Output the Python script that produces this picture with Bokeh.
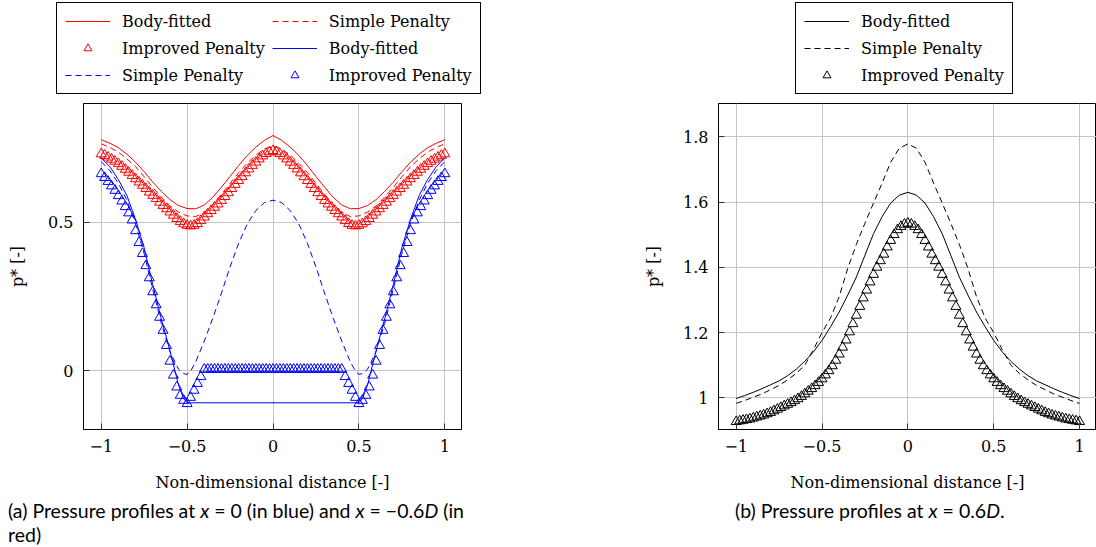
from bokeh.plotting import figure
from bokeh.models import (Range1d, CustomJSTickFormatter, Legend, LegendItem,
                          FixedTicker, ColumnDataSource, Div)
from bokeh.layouts import row, column
from bokeh.embed import file_html
from bokeh.resources import INLINE

# ---------------- data ----------------
X_TICKS = [-1, -0.5, 0, 0.5, 1]
YTICKS_A = [0, 0.5]
YTICKS_B = [1, 1.2, 1.4, 1.6, 1.8]

# sampling grids (x positions of the plotted samples)
X_LINE = [round(-1 + 0.05 * i, 2) for i in range(41)]
X_MARK = [round(-1 + 0.02 * i, 2) for i in range(101)]

# (a) x = -0.6D (red)
RED_BODY = [0.779, 0.767, 0.752, 0.730, 0.703, 0.671, 0.636, 0.605, 0.577, 0.557,
            0.547, 0.546, 0.559, 0.585, 0.619, 0.655, 0.692, 0.726, 0.754, 0.777,
            0.793,
            0.777, 0.754, 0.726, 0.692, 0.655, 0.619, 0.585, 0.559, 0.546, 0.547,
            0.557, 0.577, 0.605, 0.636, 0.671, 0.703, 0.730, 0.752, 0.767, 0.779]
RED_SIMPLE = [0.765, 0.753, 0.737, 0.714, 0.688, 0.654, 0.618, 0.586, 0.556, 0.535,
              0.522, 0.520, 0.533, 0.562, 0.595, 0.632, 0.668, 0.700, 0.727, 0.748,
              0.758,
              0.748, 0.727, 0.700, 0.668, 0.632, 0.595, 0.562, 0.533, 0.520, 0.522,
              0.535, 0.556, 0.586, 0.618, 0.654, 0.688, 0.714, 0.737, 0.753, 0.765]
RED_IMPROVED = [0.731, 0.726, 0.720, 0.713, 0.706, 0.698, 0.689, 0.679, 0.669, 0.658,
                0.647, 0.636, 0.625, 0.614, 0.602, 0.591, 0.580, 0.568, 0.557, 0.546,
                0.535, 0.524, 0.513, 0.503, 0.495, 0.490, 0.488, 0.490, 0.496, 0.506,
                0.518, 0.529, 0.540, 0.551, 0.562, 0.574, 0.587, 0.600, 0.614, 0.628,
                0.641, 0.654, 0.667, 0.680, 0.692, 0.703, 0.714, 0.724, 0.732, 0.738,
                0.742,
                0.738, 0.732, 0.724, 0.714, 0.703, 0.692, 0.680, 0.667, 0.654, 0.641,
                0.628, 0.614, 0.600, 0.587, 0.574, 0.562, 0.551, 0.540, 0.529, 0.518,
                0.506, 0.496, 0.490, 0.488, 0.490, 0.495, 0.503, 0.513, 0.524, 0.535,
                0.546, 0.557, 0.568, 0.580, 0.591, 0.602, 0.614, 0.625, 0.636, 0.647,
                0.658, 0.669, 0.679, 0.689, 0.698, 0.706, 0.713, 0.720, 0.726, 0.731]

# (a) x = 0 (blue)
BLUE_BODY_X = [-1.0, -0.95, -0.9, -0.85, -0.8, -0.75, -0.7, -0.65, -0.6, -0.55, -0.52, -0.5,
               0.5, 0.52, 0.55, 0.6, 0.65, 0.7, 0.75, 0.8, 0.85, 0.9, 0.95, 1.0]
BLUE_BODY = [0.718, 0.688, 0.645, 0.590, 0.510, 0.415, 0.290, 0.175, 0.068, -0.048, -0.094, -0.108,
             -0.108, -0.094, -0.048, 0.068, 0.175, 0.290, 0.415, 0.510, 0.590, 0.645, 0.688, 0.718]
BLUE_SIMPLE_X = [-1.0, -0.95, -0.9, -0.85, -0.8, -0.75, -0.7, -0.65, -0.6, -0.55, -0.52, -0.5,
                 -0.48, -0.45, -0.4, -0.35, -0.3, -0.25, -0.2, -0.15, -0.1, -0.05, 0.0,
                 0.05, 0.1, 0.15, 0.2, 0.25, 0.3, 0.35, 0.4, 0.45, 0.48,
                 0.5, 0.52, 0.55, 0.6, 0.65, 0.7, 0.75, 0.8, 0.85, 0.9, 0.95, 1.0]
BLUE_SIMPLE = [0.705, 0.675, 0.632, 0.575, 0.495, 0.395, 0.275, 0.160, 0.065, 0.005, -0.010, -0.012,
               -0.002, 0.030, 0.100, 0.178, 0.262, 0.350, 0.430, 0.495, 0.540, 0.567, 0.575,
               0.567, 0.540, 0.495, 0.430, 0.350, 0.262, 0.178, 0.100, 0.030, -0.002,
               -0.012, -0.010, 0.005, 0.065, 0.160, 0.275, 0.395, 0.495, 0.575, 0.632, 0.675, 0.705]
BLUE_IMPROVED = [0.664, 0.651, 0.638, 0.623, 0.608, 0.590, 0.572, 0.553, 0.532, 0.508,
                 0.472, 0.432, 0.395, 0.354, 0.313, 0.266, 0.222, 0.180, 0.136, 0.085,
                 0.032, -0.015, -0.055, -0.083, -0.100, -0.111, -0.090, -0.066, -0.043, -0.020,
                 0.005, 0.005, 0.005, 0.005, 0.005, 0.005, 0.005, 0.005, 0.005, 0.005,
                 0.005, 0.005, 0.005, 0.005, 0.005, 0.005, 0.005, 0.005, 0.005, 0.005,
                 0.005,
                 0.005, 0.005, 0.005, 0.005, 0.005, 0.005, 0.005, 0.005, 0.005, 0.005,
                 0.005, 0.005, 0.005, 0.005, 0.005, 0.005, 0.005, 0.005, 0.005, 0.005,
                 -0.020, -0.043, -0.066, -0.090, -0.111, -0.100, -0.083, -0.055, -0.015, 0.032,
                 0.085, 0.136, 0.180, 0.222, 0.266, 0.313, 0.354, 0.395, 0.432, 0.472,
                 0.508, 0.532, 0.553, 0.572, 0.590, 0.608, 0.623, 0.638, 0.651, 0.664]

# (b) x = 0.6D (black)
P6_BODY = [0.998, 1.007, 1.017, 1.028, 1.040, 1.052, 1.068, 1.088, 1.112, 1.141,
           1.176, 1.218, 1.263, 1.315, 1.370, 1.437, 1.503, 1.555, 1.597, 1.621,
           1.630,
           1.621, 1.597, 1.555, 1.503, 1.437, 1.370, 1.315, 1.263, 1.218, 1.176,
           1.141, 1.112, 1.088, 1.068, 1.052, 1.040, 1.028, 1.017, 1.007, 0.998]
P6_SIMPLE = [0.983, 0.992, 1.002, 1.012, 1.025, 1.038, 1.055, 1.075, 1.100, 1.148,
             1.200, 1.245, 1.310, 1.397, 1.470, 1.535, 1.597, 1.658, 1.722, 1.765,
             1.778,
             1.765, 1.722, 1.658, 1.597, 1.535, 1.470, 1.397, 1.310, 1.245, 1.200,
             1.148, 1.100, 1.075, 1.055, 1.038, 1.025, 1.012, 1.002, 0.992, 0.983]
P6_IMPROVED = [0.927, 0.929, 0.931, 0.933, 0.935, 0.938, 0.941, 0.944, 0.947, 0.951,
               0.955, 0.960, 0.965, 0.970, 0.975, 0.980, 0.985, 0.991, 0.997, 1.004,
               1.012, 1.020, 1.028, 1.037, 1.047, 1.058, 1.070, 1.083, 1.098, 1.115,
               1.134, 1.155, 1.177, 1.202, 1.227, 1.253, 1.280, 1.306, 1.330, 1.355,
               1.378, 1.400, 1.420, 1.440, 1.462, 1.482, 1.500, 1.515, 1.525, 1.532,
               1.535,
               1.532, 1.525, 1.515, 1.500, 1.482, 1.462, 1.440, 1.420, 1.400, 1.378,
               1.355, 1.330, 1.306, 1.280, 1.253, 1.227, 1.202, 1.177, 1.155, 1.134,
               1.115, 1.098, 1.083, 1.070, 1.058, 1.047, 1.037, 1.028, 1.020, 1.012,
               1.004, 0.997, 0.991, 0.985, 0.980, 0.975, 0.970, 0.965, 0.960, 0.955,
               0.951, 0.947, 0.944, 0.941, 0.938, 0.935, 0.933, 0.931, 0.929, 0.927]

LEGEND_LABELS = ["Body-fitted", "Simple Penalty", "Improved Penalty"]
XLABEL = "Non-dimensional distance [-]"
YLABEL = "p* [-]"
CAPTION_A = ("(a) Pressure profiles at <i>x</i> = 0 (in blue) and <i>x</i> = \u22120.6<i>D</i> (in<br>"
             "red)")
CAPTION_B = "(b) Pressure profiles at <i>x</i> = 0.6<i>D</i>."

# ---------------- styling ----------------
SERIF = "DejaVu Serif"
CAPF = "Lato"
FS = "16px"
GRID = "#c4c4c4"
DASH = "6 4"
W_A, W_B = 560, 536
LEG_H = 95
MAIN_H = 404
CAP_H = 547 - LEG_H - MAIN_H
FMT = "return tick < 0 ? '\\u2212' + (-tick) : '' + tick;"


def style_axis(ax, ticks):
    ax.ticker = FixedTicker(ticks=ticks)
    ax.major_tick_in = 6
    ax.major_tick_out = 0
    ax.minor_tick_line_color = None
    ax.axis_line_color = "black"
    ax.major_tick_line_color = "#333333"
    ax.formatter = CustomJSTickFormatter(code=FMT)
    ax.major_label_text_font = SERIF
    ax.major_label_text_color = "black"
    ax.major_label_text_font_size = FS
    ax.major_label_standoff = 10
    ax.axis_label_text_font = SERIF
    ax.axis_label_text_font_size = FS
    ax.axis_label_text_font_style = "normal"
    ax.axis_label_text_color = "black"


def make_fig(width, xr, yr, yticks, left, right):
    p = figure(width=width, height=MAIN_H, x_range=Range1d(*xr), y_range=Range1d(*yr),
               output_backend="svg", toolbar_location=None,
               min_border_left=left, min_border_right=right,
               min_border_top=8, min_border_bottom=70)
    p.outline_line_color = "black"
    p.background_fill_color = "white"
    p.border_fill_color = "white"
    style_axis(p.xaxis[0], X_TICKS)
    style_axis(p.yaxis[0], yticks)
    p.xaxis[0].axis_label = XLABEL
    p.yaxis[0].axis_label = YLABEL
    p.xaxis[0].axis_label_standoff = 18
    p.xgrid[0].ticker = FixedTicker(ticks=X_TICKS)
    p.ygrid[0].ticker = FixedTicker(ticks=yticks)
    for g in (p.xgrid[0], p.ygrid[0]):
        g.grid_line_color = GRID
        g.grid_line_width = 1
    return p


# a frame-only strip across the page that hosts both legends
# (its copies of the series lie outside its y range, so only the legends show)
leg_fig = figure(width=W_A + W_B, height=LEG_H, x_range=Range1d(-1.1, 1.1),
                 y_range=Range1d(5, 6), output_backend="svg", toolbar_location=None,
                 x_axis_location=None, y_axis_location=None,
                 min_border_left=0, min_border_right=0, min_border_top=0, min_border_bottom=0)
leg_fig.outline_line_color = None
leg_fig.xgrid.visible = False
leg_fig.ygrid.visible = False
leg_fig.background_fill_color = "white"
leg_fig.border_fill_color = "white"


def make_legend(items, loc, ncols):
    return Legend(items=items, location=loc, orientation="horizontal", ncols=ncols,
                  border_line_color="black", border_line_width=1, border_line_alpha=1,
                  background_fill_color="white", background_fill_alpha=1,
                  label_text_font=SERIF, label_text_font_size=FS, label_text_color="black",
                  glyph_width=45, glyph_height=20, label_height=20, label_standoff=12,
                  spacing=7, padding=8, margin=0)


def draw(p, src, kind, color):
    if kind == "solid":
        return p.line("x", "y", source=src, line_color=color, line_width=1)
    if kind == "dash":
        return p.line("x", "y", source=src, line_color=color, line_width=1, line_dash=DASH)
    return p.scatter("x", "y", source=src, marker="triangle", size=10, fill_color=None,
                     line_color=color, line_width=1)


def caption_div(html, width, pad_left):
    return Div(text=html, width=width, height=CAP_H,
               styles={"font-family": CAPF, "font-size": "19.5px", "line-height": "24px",
                       "color": "black", "padding-left": f"{pad_left}px",
                       "box-sizing": "border-box", "margin": "0"})


SERIES_A = [
    (X_LINE, RED_BODY, "solid", "red", LEGEND_LABELS[0]),
    (X_LINE, RED_SIMPLE, "dash", "red", LEGEND_LABELS[1]),
    (X_MARK, RED_IMPROVED, "tri", "red", LEGEND_LABELS[2]),
    (BLUE_BODY_X, BLUE_BODY, "solid", "blue", LEGEND_LABELS[0]),
    (BLUE_SIMPLE_X, BLUE_SIMPLE, "dash", "blue", LEGEND_LABELS[1]),
    (X_MARK, BLUE_IMPROVED, "tri", "blue", LEGEND_LABELS[2]),
]
SERIES_B = [
    (X_LINE, P6_BODY, "solid", "black", LEGEND_LABELS[0]),
    (X_LINE, P6_SIMPLE, "dash", "black", LEGEND_LABELS[1]),
    (X_MARK, P6_IMPROVED, "tri", "black", LEGEND_LABELS[2]),
]


def build(series, width, xr, yr, yticks, left, right, leg_loc, ncols, cap_html, cap_pad):
    main = make_fig(width, xr, yr, yticks, left, right)
    items = []
    for xs, ys, kind, color, label in series:
        src = ColumnDataSource(data=dict(x=xs, y=ys))
        draw(main, src, kind, color)
        r = draw(leg_fig, src, kind, color)
        items.append(LegendItem(label=label, renderers=[r]))
    leg_fig.add_layout(make_legend(items, leg_loc, ncols))
    cap = caption_div(cap_html, width, cap_pad)
    return main, cap


main_a, cap_a = build(SERIES_A, W_A, (-1.103, 1.097), (-0.198, 0.901), YTICKS_A,
                      83, 99, (56, 1), 2, CAPTION_A, 8)
main_a.yaxis[0].axis_label_standoff = 18
main_b, cap_b = build(SERIES_B, W_B, (-1.103, 1.099), (0.903, 1.902), YTICKS_B,
                      158, 0, (795, 1), 1, CAPTION_B, 175)
main_b.yaxis[0].axis_label_standoff = 17

layout = column(leg_fig, row(main_a, main_b), row(cap_a, cap_b))
open("out.html", "w").write(file_html(layout, INLINE))
